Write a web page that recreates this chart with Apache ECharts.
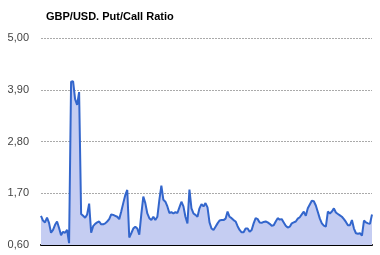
<!DOCTYPE html>
<html><head><meta charset="utf-8">
<script src="https://cdn.jsdelivr.net/npm/echarts@6/dist/echarts.min.js"></script>
<style>html,body{margin:0;padding:0;background:#fff}#c{width:380px;height:255px}</style>
</head><body><div id="c"></div>
<script>
var titleText = 'GBP/USD. Put/Call Ratio';
var yTicks = [0.6, 1.7, 2.8, 3.9, 5.0];
var ratio = [
1.22,1.12,1.08,1.18,1.07,0.86,0.92,1.03,1.10,0.96,
0.81,0.88,0.86,0.92,0.64,4.07,4.08,3.70,3.58,3.85,
1.26,1.22,1.18,1.25,1.48,0.86,1.00,1.05,1.08,1.10,
1.04,1.04,1.06,1.10,1.15,1.25,1.24,1.22,1.20,1.15,
1.31,1.49,1.66,1.77,0.76,0.85,0.95,0.99,0.95,0.82,
1.25,1.63,1.49,1.27,1.17,1.13,1.20,1.13,1.20,1.56,
1.86,1.56,1.52,1.42,1.28,1.30,1.27,1.30,1.28,1.40,
1.52,1.42,1.20,1.06,1.78,1.38,1.27,1.24,1.20,1.38,
1.47,1.42,1.49,1.40,1.08,0.95,0.92,0.99,1.06,1.12,
1.13,1.13,1.16,1.31,1.20,1.17,1.13,1.10,1.00,0.92,
0.87,0.87,0.95,0.95,0.88,0.92,1.06,1.17,1.15,1.08,
1.07,1.09,1.10,1.08,1.05,1.01,1.02,1.10,1.17,1.14,
1.15,1.08,1.01,0.97,0.99,1.06,1.08,1.10,1.16,1.19,
1.25,1.31,1.22,1.38,1.46,1.54,1.53,1.44,1.30,1.16,
1.06,1.01,0.99,1.31,1.27,1.31,1.38,1.29,1.26,1.23,
1.20,1.15,1.09,1.02,1.02,1.13,0.95,0.85,0.84,0.85,
0.80,1.12,1.08,1.06,1.05,1.25
];
var categories = ratio.map(function(_, i){ return String(i + 1); });

var chart = echarts.init(document.getElementById('c'), null, {renderer:'canvas'});
chart.setOption({
  animation: false,
  title: {
    text: titleText, left: 41, top: 6,
    textStyle: {fontFamily: 'Liberation Sans, Arial, sans-serif', fontSize: 11, fontWeight: 'bold', color: '#000'}
  },
  grid: {left: 41, right: 8, top: 38, bottom: 10, containLabel: false},
  xAxis: {
    type: 'category', data: categories, boundaryGap: false,
    axisLine: {show: true, lineStyle: {color: '#000', width: 2}},
    axisTick: {show: false}, axisLabel: {show: false}, splitLine: {show: false}
  },
  yAxis: {
    type: 'value', min: yTicks[0], max: yTicks[yTicks.length - 1], interval: yTicks[1] - yTicks[0],
    axisLine: {show: false}, axisTick: {show: false},
    axisLabel: {
      margin: 12, fontFamily: 'Liberation Sans, Arial, sans-serif', fontSize: 11, color: '#444',
      formatter: function(v){ return v.toFixed(2).replace('.', ','); }
    },
    splitLine: {show: true, lineStyle: {color: '#aaa', type: [2, 1], width: 1}}
  },
  series: [{
    type: 'line', data: ratio, symbol: 'none', smooth: false,
    lineStyle: {color: '#3366cc', width: 2},
    areaStyle: {color: '#c5cdf2', opacity: 1}
  }]
});
</script></body></html>
